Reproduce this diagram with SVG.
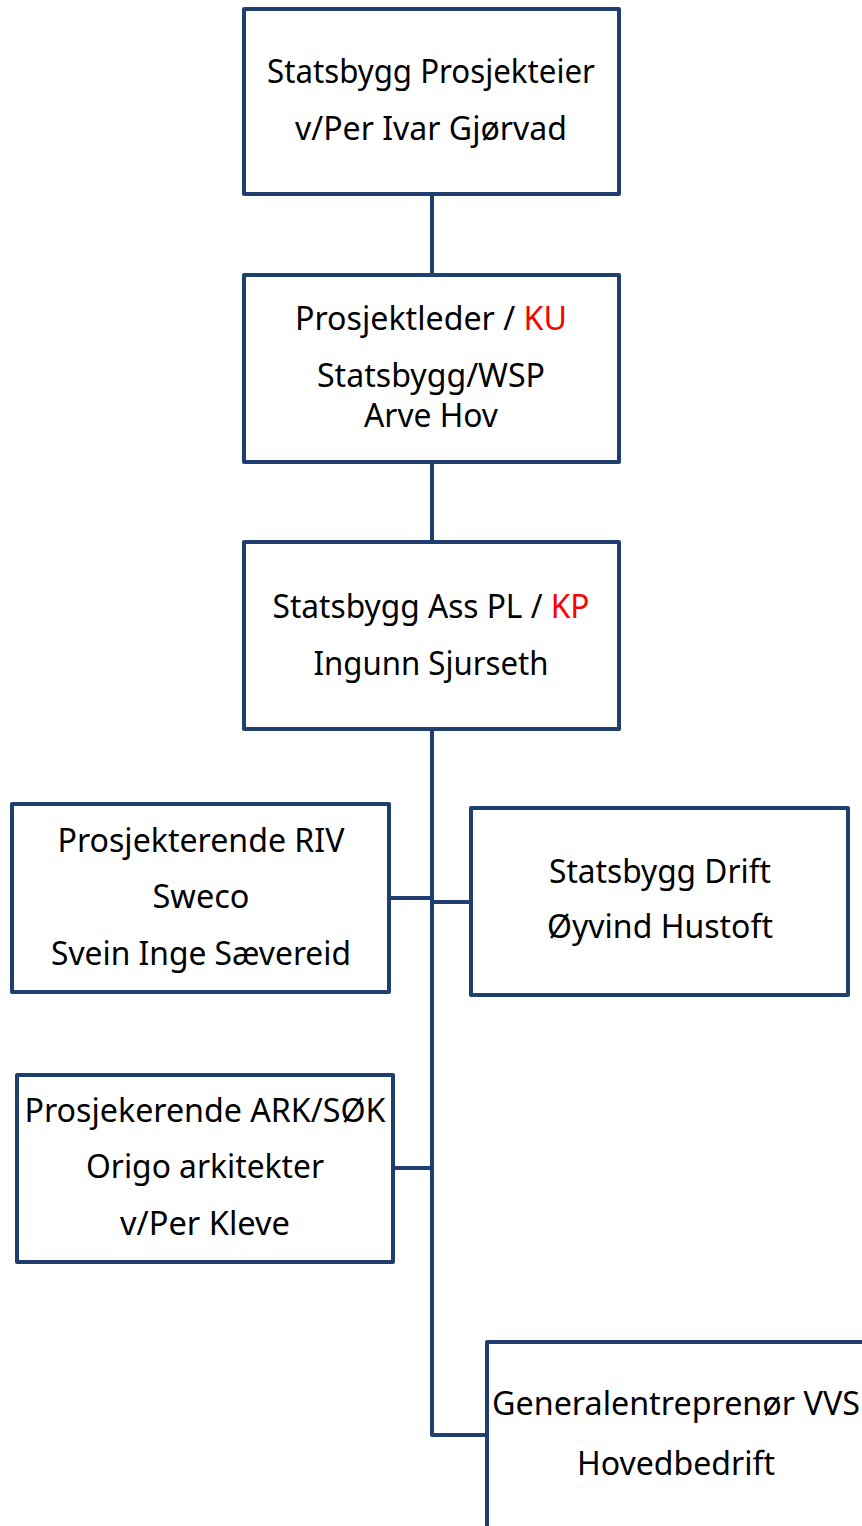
<svg xmlns="http://www.w3.org/2000/svg" width="862" height="1526" viewBox="0 0 862 1526">
<style>
.box{fill:#fff;stroke:#1F3F6F;stroke-width:4;stroke-linejoin:round}
.con{fill:none;stroke:#1F3F6F;stroke-width:4;stroke-linejoin:round}
.t{font-family:"Noto Sans","Open Sans",sans-serif;font-size:32px;fill:#000;text-anchor:middle}
.r{fill:#FF0000}
</style>
<rect width="862" height="1526" fill="#fff"/>
<g id="connectors">
<path class="con" d="M432 194 V275"/>
<path class="con" d="M432 462 V542"/>
<path class="con" d="M432 729 V1435 H487"/>
<path class="con" d="M389 898 H432"/>
<path class="con" d="M432 902 H471"/>
<path class="con" d="M393 1168 H432"/>
</g>
<g id="node-prosjekteier">
<rect class="box" x="244" y="9" width="375" height="185"/>
<text class="t" x="431" y="83" textLength="328" lengthAdjust="spacingAndGlyphs">Statsbygg Prosjekteier</text>
<text class="t" x="431" y="140" textLength="272" lengthAdjust="spacingAndGlyphs">v/Per Ivar Gjørvad</text>
</g>
<g id="node-prosjektleder">
<rect class="box" x="244" y="275" width="375" height="187"/>
<text class="t" x="431" y="330" textLength="272" lengthAdjust="spacingAndGlyphs">Prosjektleder / <tspan class="r">KU</tspan></text>
<text class="t" x="431" y="387" textLength="228" lengthAdjust="spacingAndGlyphs">Statsbygg/WSP</text>
<text class="t" x="431" y="427" textLength="134" lengthAdjust="spacingAndGlyphs">Arve Hov</text>
</g>
<g id="node-asspl">
<rect class="box" x="244" y="542" width="375" height="187"/>
<text class="t" x="431" y="618" textLength="317" lengthAdjust="spacingAndGlyphs">Statsbygg Ass PL / <tspan class="r">KP</tspan></text>
<text class="t" x="431" y="675" textLength="235" lengthAdjust="spacingAndGlyphs">Ingunn Sjurseth</text>
</g>
<g id="node-riv">
<rect class="box" x="12" y="804" width="377" height="188"/>
<text class="t" x="201" y="852" textLength="287" lengthAdjust="spacingAndGlyphs">Prosjekterende RIV</text>
<text class="t" x="201" y="908" textLength="97" lengthAdjust="spacingAndGlyphs">Sweco</text>
<text class="t" x="201" y="965" textLength="300" lengthAdjust="spacingAndGlyphs">Svein Inge Sævereid</text>
</g>
<g id="node-drift">
<rect class="box" x="471" y="808" width="377" height="187"/>
<text class="t" x="660" y="883" textLength="222" lengthAdjust="spacingAndGlyphs">Statsbygg Drift</text>
<text class="t" x="660" y="938" textLength="226" lengthAdjust="spacingAndGlyphs">Øyvind Hustoft</text>
</g>
<g id="node-ark">
<rect class="box" x="17" y="1075" width="376" height="187"/>
<text class="t" x="205" y="1122" textLength="361" lengthAdjust="spacingAndGlyphs">Prosjekerende ARK/SØK</text>
<text class="t" x="205" y="1178" textLength="238" lengthAdjust="spacingAndGlyphs">Origo arkitekter</text>
<text class="t" x="205" y="1235" textLength="170" lengthAdjust="spacingAndGlyphs">v/Per Kleve</text>
</g>
<g id="node-generalentreprenor">
<rect class="box" x="487" y="1342" width="420" height="260"/>
<text class="t" x="676" y="1415" textLength="368" lengthAdjust="spacingAndGlyphs">Generalentreprenør VVS</text>
<text class="t" x="676" y="1475" textLength="198" lengthAdjust="spacingAndGlyphs">Hovedbedrift</text>
</g>
</svg>
